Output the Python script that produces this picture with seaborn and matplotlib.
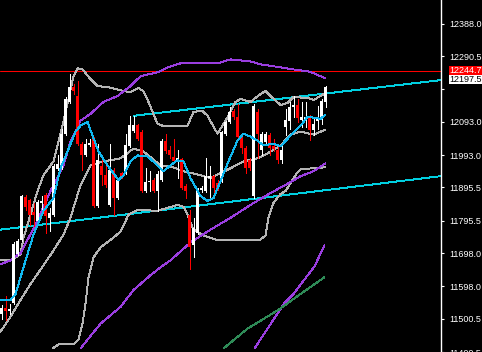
import matplotlib
matplotlib.use("Agg")
import matplotlib.pyplot as plt
import seaborn as sns
import pandas as pd
import numpy as np

# ---------------- data ----------------
opens = [11515.5, 11533.4, 11524.5, 11548.2, 11694.2, 11738.8, 11866.9, 11857.9, 11822.2, 11795.4,
         11849.0, 11872.8, 11804.3, 11813.3, 11950.3, 11953.2, 12057.5, 12152.8, 12197.4, 12170.6,
         12027.7, 11992.0, 12024.7, 12042.6, 11840.1, 11959.2, 11932.4, 11843.1, 11947.3, 11863.9,
         11938.4, 11938.4, 12018.8, 12066.4, 12084.3, 12063.4, 11884.7, 11911.6, 11917.5, 11884.7,
         11917.5, 12036.6, 12006.8, 11986.0, 11974.1, 11980.0, 11899.6, 11813.3, 11723.9, 11759.7,
         11887.7, 11884.7, 11923.5, 11929.4, 11908.6, 11914.5, 12057.5, 12093.2, 12126.0, 12108.1,
         12048.5, 12012.8, 11977.1, 11869.9, 12123.0, 12006.8, 12033.6, 12054.5, 12018.8, 12006.8,
         11977.1, 12078.3, 12096.2, 12137.9, 12143.8, 12099.2, 12102.1, 12108.1, 12069.4, 12096.2,
         12105.1, 12152.8]
closes = [11533.4, 11524.5, 11530.4, 11726.9, 11735.8, 11869.9, 11837.1, 11813.3, 11813.3, 11852.0,
          11855.0, 11810.3, 11819.2, 11959.2, 11965.1, 12057.5, 12161.7, 12197.4, 12185.5, 12027.7,
          11992.0, 12027.7, 12030.7, 11840.1, 11977.1, 11932.4, 11902.6, 11947.3, 11863.9, 11917.5,
          11929.4, 12024.7, 12084.3, 12084.3, 12042.6, 11884.7, 11911.6, 11914.5, 11884.7, 11935.4,
          12036.6, 12003.9, 11992.0, 11974.1, 11983.0, 11893.7, 11884.7, 11715.0, 11774.6, 11887.7,
          11893.7, 11929.4, 11929.4, 11893.7, 11893.7, 12063.4, 12093.2, 12123.0, 12108.1, 12048.5,
          12012.8, 11953.2, 11953.2, 12140.9, 12057.5, 12057.5, 12057.5, 12012.8, 12009.8, 11977.1,
          12006.8, 12099.2, 12137.9, 12143.8, 12105.1, 12108.1, 12108.1, 12069.4, 12087.2, 12108.1,
          12155.7, 12197.5]
highs = [11542.3, 11569.1, 11545.3, 11732.9, 11741.8, 11872.8, 11872.8, 11860.9, 11849.0, 11857.9,
         11869.9, 11878.8, 11834.1, 11965.1, 11992.0, 12072.4, 12167.7, 12236.2, 12206.4, 12215.3,
         12033.6, 12042.6, 12042.6, 12048.5, 12027.7, 11992.0, 11962.2, 12027.7, 11953.2, 11923.5,
         11941.3, 12057.5, 12111.1, 12111.1, 12087.2, 12069.4, 11953.2, 11944.3, 11923.5, 11944.3,
         12042.6, 12057.5, 12018.8, 12042.6, 12006.8, 11983.0, 11905.6, 11828.2, 11804.3, 11893.7,
         11899.6, 11983.0, 11959.2, 11932.4, 11917.5, 12066.4, 12096.2, 12137.9, 12131.9, 12146.8,
         12054.5, 12018.8, 11983.0, 12146.8, 12131.9, 12063.4, 12063.4, 12060.5, 12042.6, 12027.7,
         12024.7, 12131.9, 12152.8, 12170.6, 12161.7, 12152.8, 12152.8, 12114.1, 12108.1, 12140.9,
         12161.7, 12200.4]
lows = [11500.6, 11497.6, 11515.5, 11545.3, 11691.2, 11735.8, 11828.2, 11783.5, 11780.5, 11789.5,
        11813.3, 11759.7, 11765.6, 11810.3, 11947.3, 11950.3, 12054.5, 12149.8, 12176.6, 12024.7,
        11947.3, 11989.0, 12021.7, 11837.1, 11837.1, 11902.6, 11896.7, 11840.1, 11813.3, 11860.9,
        11923.5, 11935.4, 12015.8, 12063.4, 12039.6, 11881.8, 11881.8, 11884.7, 11881.8, 11825.2,
        11914.5, 11997.9, 11983.0, 11968.1, 11923.5, 11890.7, 11863.9, 11649.5, 11685.2, 11756.7,
        11881.8, 11881.8, 11863.9, 11878.8, 11887.7, 11911.6, 12054.5, 12090.2, 12102.1, 12045.6,
        11997.9, 11938.4, 11947.3, 11863.9, 11983.0, 11992.0, 12027.7, 11992.0, 12003.9, 11968.1,
        11968.1, 12054.5, 12072.4, 12108.1, 12093.2, 12078.3, 12078.3, 12039.6, 12054.5, 12072.4,
        12087.2, 12137.9]

# Bollinger-style bands (gray)
bb_up_x = [-0.25, 2.25, 4.75, 5.5, 6.5, 9, 10.5, 13, 15.25, 16.75, 18, 19, 20.25, 22.25, 24, 26.5,
           30.5, 32.25, 34.25, 35.5, 36.75, 37.75, 39, 40.25, 46.5, 48, 50.25, 51.5, 53, 54, 55.25,
           56.75, 58.5, 59.75, 62.25, 64.75, 66, 67.25, 69.75, 71.5, 73, 76.5, 78, 79.75, 81]
bb_up = [11676.3, 11676.3, 11694.2, 11744.8, 11783.5, 11884.7, 11932.4, 11974.1, 12081.3, 12161.7,
         12230.2, 12254.0, 12251.0, 12221.3, 12200.4, 12197.4, 12185.5, 12182.5, 12194.5, 12185.5,
         12152.8, 12123.0, 12087.2, 12081.3, 12081.3, 12123.0, 12126.0, 12111.1, 12078.3, 12057.5,
         12081.3, 12111.1, 12152.8, 12161.7, 12152.8, 12176.6, 12185.5, 12170.6, 12143.8, 12149.8,
         12167.7, 12164.7, 12158.7, 12170.6, 12179.6]
bb_mid_x = [-0.25, 2.25, 4.75, 7.25, 10.5, 13, 15.5, 17.25, 19.75, 22.25, 25.5, 29.75, 33, 35.5,
            39.75, 42.25, 45.5, 49.75, 52.25, 57.25, 60.5, 64, 66.5, 69.75, 72.25, 74.75, 78, 81]
bb_mid = [11461.9, 11506.5, 11557.2, 11604.8, 11661.4, 11706.1, 11753.7, 11804.3, 11902.6, 11962.2,
          11974.1, 11983.0, 12012.8, 12003.9, 11962.2, 11959.2, 11944.3, 11932.4, 11923.5, 11953.2,
          11974.1, 11983.0, 11997.9, 12021.7, 12054.5, 12063.4, 12054.5, 12069.4]
bb_low_x = [12.75, 13.5, 14.75, 18, 19.25, 20.25, 21, 21.75, 23, 24.75, 28, 29.75, 31.75, 34, 39,
            44, 45.5, 46.5, 48, 50.5, 53.5, 64.75, 66, 66.75, 68, 69.75, 71, 74, 74.75, 81]
bb_low = [11411.2, 11417.2, 11426.1, 11423.2, 11438.0, 11485.7, 11545.3, 11625.7, 11685.2, 11715.0,
          11744.8, 11762.6, 11813.3, 11828.2, 11825.2, 11843.1, 11837.1, 11813.3, 11768.6, 11750.7,
          11738.8, 11738.8, 11750.7, 11804.3, 11849.0, 11875.8, 11884.7, 11941.3, 11950.3, 11956.2]

# fast moving average (sky blue)
ma_fast_x = [-0.25, 2.25, 3.5, 4.25, 5.5, 8, 10.5, 13, 14.75, 16.5, 18.5, 19.75, 21.5, 22.75, 24.25,
             26.5, 28, 29.25, 30.5, 32.25, 34, 36.5, 39, 40.5, 42.25, 44, 45.5, 47.25, 49.75, 51.5,
             53, 54.75, 56.75, 59, 60.5, 62.25, 64, 65.5, 68, 69.75, 72.25, 74.75, 76.5, 79.75, 81]
ma_fast = [11557.2, 11557.2, 11575.0, 11604.8, 11655.4, 11753.7, 11825.2, 11863.9, 11953.2, 12003.9,
           12063.4, 12081.3, 12093.2, 12051.5, 12003.9, 11962.2, 11938.4, 11917.5, 11932.4, 11974.1,
           11992.0, 11989.0, 11962.2, 11944.3, 11962.2, 11977.1, 11974.1, 11923.5, 11869.9, 11855.0,
           11863.9, 11914.5, 11974.1, 12036.6, 12057.5, 12048.5, 12036.6, 12021.7, 12027.7, 12018.8,
           12051.5, 12081.3, 12108.1, 12102.1, 12114.1]

# purple band (upper / lower)
pb_up_x = [-0.25, 2.25, 4.75, 8.5, 12.25, 15.5, 17.25, 19.75, 22.25, 25.5, 29, 32.25, 34.75, 39,
           42.25, 44.75, 54, 57.25, 62.25, 64.75, 69.75, 72.75, 76.5, 78, 79.75, 81]
pb_up = [11664.4, 11676.3, 11698.2, 11783.5, 11884.7, 11962.2, 12033.6, 12096.2, 12117.0, 12152.8,
         12170.6, 12200.4, 12230.2, 12242.1, 12260.0, 12268.9, 12268.9, 12280.8, 12274.9, 12265.9,
         12257.0, 12251.0, 12245.1, 12239.1, 12230.2, 12224.2]
pb_low_x = [19.75, 24.75, 29.75, 33, 37.25, 39.75, 42.25, 47.25, 52.25, 57.25, 62.25, 67.25, 72.25,
            74.75, 78, 81]
pb_low = [11411.2, 11485.7, 11536.3, 11586.9, 11631.6, 11655.4, 11676.3, 11729.9, 11768.6, 11804.3,
          11843.1, 11878.8, 11911.6, 11929.4, 11944.3, 11968.1]
# steep purple and green lines at the bottom right
ps_x = [63.25, 70.75, 73, 78.25, 80.75]
ps = [11411.2, 11548.2, 11575.0, 11658.4, 11721.0]
green_x = [55.5, 61.5, 69.25, 74.75, 80.75]
green = [11411.2, 11470.8, 11527.4, 11575.0, 11625.7]

# trend channel (turquoise) and horizontal level (red)
chan_up_x = [33, 109.75]
chan_up = [12111.1, 12218.3]
chan_low_x = [-0.25, 109.75]
chan_low = [11768.6, 11929.4]
level_price = 12244.7
last_price = 12197.5

tick_prices = [12388.0, 12290.5, 12193.0, 12093.0, 11993.0, 11895.5, 11795.5, 11698.0, 11598.0,
               11500.5, 11400.5]
tick_labels = ["12388.0", "12290.5", "", "12093.0", "11993.0", "11895.5", "11795.5", "11698.0",
               "11598.0", "11500.5", "11400.5"]

# ---------------- drawing ----------------
sns.set_style("dark", {"axes.facecolor": "black", "figure.facecolor": "black"})
plt.rcParams["font.family"] = ["Liberation Sans", "DejaVu Sans"]

W, H = 482, 352
fig = plt.figure(figsize=(W / 100, H / 100), dpi=100, facecolor="black")
ax = fig.add_axes([0, 0, 441 / W, 1])
ax.set_facecolor("black")

n = len(opens)
idx = np.arange(n)
df = pd.DataFrame({"i": idx, "o": opens, "h": highs, "l": lows, "c": closes})
up = df[df.c >= df.o]
dn = df[df.c < df.o]

LW = 0.7  # ~1 px
ax.vlines(up.i, up.l, up.h, color="white", lw=LW, antialiased=False, zorder=3)
ax.vlines(dn.i, dn.l, dn.h, color="#ff0000", lw=LW, antialiased=False, zorder=3)
body_min = 3.0
ax.bar(up.i, np.maximum(up.c - up.o, body_min), bottom=up.o, width=0.72, color="white",
       linewidth=0, antialiased=False, zorder=4)
ax.bar(dn.i, np.maximum(dn.o - dn.c, body_min), bottom=dn.c, width=0.72, color="#ff0000",
       linewidth=0, antialiased=False, zorder=4)

def line(xs, ys, color, z=2):
    sns.lineplot(x=xs, y=ys, ax=ax, color=color, lw=LW, sort=False, estimator=None,
                 antialiased=False, zorder=z, legend=False)

line(chan_up_x, chan_up, "#00cfe0", 2)
line(chan_low_x, chan_low, "#00cfe0", 2)
ax.axhline(level_price, color="#ff0000", lw=0.75, antialiased=True, zorder=2)
line(bb_up_x, bb_up, "#b4b4b4")
line(bb_mid_x, bb_mid, "#b4b4b4")
line(bb_low_x, bb_low, "#b4b4b4")
line(pb_up_x, pb_up, "#9a3ee0")
line(pb_low_x, pb_low, "#9a3ee0")
line(ps_x, ps, "#9a3ee0")
line(green_x, green, "#2e8b57")
line(ma_fast_x, ma_fast, "#10b8f0", 5)

ax.set_xlim(-0.375, -0.375 + 441 / 4)
ax.set_ylim(12459.5 - H * 2.978, 12459.5)
ax.grid(False)
for s in ["top", "left", "bottom"]:
    ax.spines[s].set_visible(False)
ax.spines["right"].set_color("white")
ax.spines["right"].set_linewidth(1.0)
ax.set_xticks([])
ax.set_xlabel("")
ax.set_ylabel("")
ax.yaxis.tick_right()
ax.set_yticks(tick_prices)
ax.set_yticklabels(tick_labels)
FS = 6.5
ax.tick_params(axis="y", colors="white", labelcolor="white", length=2.3, width=0.8,
               direction="out", pad=3.5, labelsize=FS)

# price labels on the axis
ax.annotate(f"{last_price:.1f}", xy=(1.0, last_price), xycoords=("axes fraction", "data"),
            xytext=(8, 8), textcoords="offset pixels", ha="left", va="center",
            color="black", fontsize=FS, annotation_clip=False, zorder=10,
            bbox=dict(boxstyle="square,pad=0.0", fc="white", ec="none"))
ax.annotate(f"{level_price:.1f}", xy=(1.0, level_price), xycoords=("axes fraction", "data"),
            xytext=(8, 1), textcoords="offset pixels", ha="left", va="center",
            color="white", fontsize=FS, annotation_clip=False, zorder=11,
            bbox=dict(boxstyle="square,pad=0.0", fc="#ff0000", ec="none"))

fig.savefig("out.png", dpi=100, facecolor="black")
